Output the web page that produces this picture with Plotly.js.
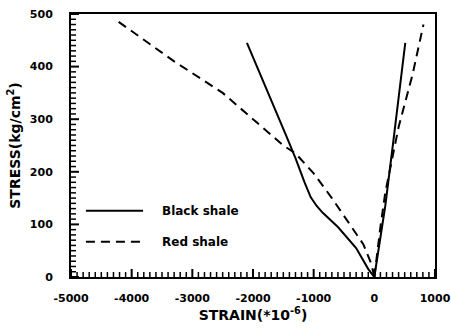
<!DOCTYPE html>
<html>
<head>
<meta charset="utf-8">
<script src="https://cdn.plot.ly/plotly-3.0.1.min.js"></script>
<style>
  html, body { margin: 0; padding: 0; background: #fff; }
  #chart { width: 451px; height: 331px; }
</style>
</head>
<body>
<div id="chart"></div>
<script>
// Stress–strain curves (strain in 1e-6, stress in kg/cm²)
const blackLateralStrain = [0, -100, -300, -600, -850, -950, -1050, -1150, -1300, -1450, -2100];
const blackLateralStress = [0, 15, 55, 95, 122, 135, 152, 180, 226, 268, 445];
const blackAxialStrain = [0, 50, 180, 310, 510];
const blackAxialStress = [0, 40, 135, 255, 445];

const redLateralStrain = [0, -50, -180, -450, -700, -1000, -1300, -1500, -2000, -2500, -3300, -4250];
const redLateralStress = [0, 25, 62, 108, 150, 197, 235, 250, 300, 350, 410, 488];
const redAxialStrain = [0, 50, 100, 180, 400, 630, 810];
const redAxialStress = [0, 50, 95, 160, 285, 385, 480];

const xTickVals = [-5000, -4000, -3000, -2000, -1000, 0, 1000];
const xTickText = ['-5000', '-4000', '-3000', '-2000', '-1000', '0', '1000'];
const yTickVals = [0, 100, 200, 300, 400, 500];

const seriesNames = ['Black shale', 'Red shale'];

const FONT = 'DejaVu Sans, Verdana, sans-serif';
const solid = { color: '#000', width: 2 };
const dashed = { color: '#000', width: 2, dash: '9px,6px' };

const traces = [
  { x: blackLateralStrain, y: blackLateralStress, mode: 'lines', line: solid, name: seriesNames[0], showlegend: false },
  { x: blackAxialStrain, y: blackAxialStress, mode: 'lines', line: solid, name: seriesNames[0], showlegend: false },
  { x: redLateralStrain, y: redLateralStress, mode: 'lines', line: dashed, name: seriesNames[1], showlegend: false },
  { x: redAxialStrain, y: redAxialStress, mode: 'lines', line: dashed, name: seriesNames[1], showlegend: false }
];

const xRange = [xTickVals[0], xTickVals[xTickVals.length - 1]];
const yRange = [yTickVals[0], yTickVals[yTickVals.length - 1]];

// inward tick marks along the bottom and left axes (major + fine)
function tickMarks(axis, lo, hi, step, majorStep) {
  const marks = [];
  for (let v = lo; v <= hi + 1e-9; v += step) {
    const major = Math.abs(v / majorStep - Math.round(v / majorStep)) < 1e-9;
    const len = major ? 8 : 5;
    const w = major ? 2 : 1.5;
    if (axis === 'x') {
      marks.push({ type: 'line', layer: 'above', xref: 'x', yref: 'paper', ysizemode: 'pixel', yanchor: 0,
        x0: v, x1: v, y0: 0, y1: len, line: { color: '#000', width: w } });
    } else {
      marks.push({ type: 'line', layer: 'above', yref: 'y', xref: 'paper', xsizemode: 'pixel', xanchor: 0,
        y0: v, y1: v, x0: 0, x1: len, line: { color: '#000', width: w } });
    }
  }
  return marks;
}

// legend drawn as line samples + labels inside the plot area
const legendRows = [
  { y: 0.252, style: solid, text: seriesNames[0] },
  { y: 0.134, style: dashed, text: seriesNames[1] }
];
const legendLines = legendRows.map(r => ({
  type: 'line', xref: 'paper', yref: 'paper',
  x0: 0.041, x1: 0.198, y0: r.y, y1: r.y,
  line: { color: '#000', width: 2, dash: r.style.dash || 'solid' }
}));
const annotations = legendRows.map(r => ({
  xref: 'paper', yref: 'paper', x: 0.245, y: r.y,
  xanchor: 'left', yanchor: 'middle', showarrow: false,
  text: '<b>' + r.text + '</b>',
  font: { family: FONT, size: 12, color: '#000' }
}));

const shapes = []
  .concat(tickMarks('x', xRange[0], xRange[1], 100, 1000))
  .concat(tickMarks('y', yRange[0], yRange[1], 10, 100))
  .concat(legendLines);

const layout = {
  width: 451, height: 331,
  margin: { l: 71, r: 16, t: 14, b: 54 },
  paper_bgcolor: '#fff', plot_bgcolor: '#fff',
  showlegend: false,
  font: { family: FONT, color: '#000' },
  xaxis: {
    range: xRange,
    tickmode: 'array', tickvals: xTickVals, ticktext: xTickText.map(t => '<b>' + t + '</b>'),
    ticks: '',
    showline: true, linewidth: 2, linecolor: '#000', mirror: true,
    showgrid: false, zeroline: false,
    ticklabelstandoff: 10,
    tickfont: { family: FONT, size: 11, color: '#000' },
    title: { text: '<b>STRAIN(*10<sup>-6</sup>)</b>', font: { family: FONT, size: 14, color: '#000' }, standoff: 4 }
  },
  yaxis: {
    range: yRange,
    tickmode: 'array', tickvals: yTickVals, ticktext: yTickVals.map(v => '<b>' + v + '</b>'),
    ticks: '',
    showline: true, linewidth: 2, linecolor: '#000', mirror: true,
    showgrid: false, zeroline: false,
    ticklabelstandoff: 14,
    tickfont: { family: FONT, size: 11, color: '#000' },
    title: { text: '<b>STRESS(kg/cm<sup>2</sup>)</b>', font: { family: FONT, size: 14, color: '#000' }, standoff: 6 }
  },
  shapes: shapes,
  annotations: annotations
};

Plotly.newPlot('chart', traces, layout, { staticPlot: true, displayModeBar: false });
</script>
</body>
</html>
